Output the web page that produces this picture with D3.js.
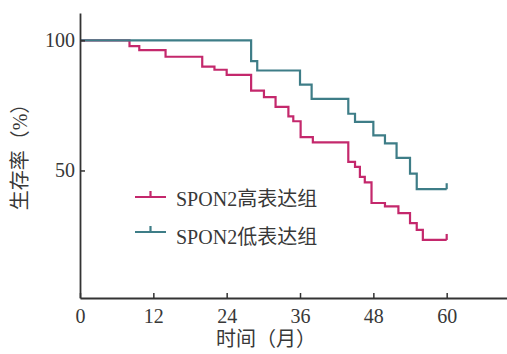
<!DOCTYPE html>
<html>
<head>
<meta charset="utf-8">
<script src="https://cdn.jsdelivr.net/npm/d3@7"></script>
<style>
  body { margin: 0; background: #fff; }
  svg { display: block; }
</style>
</head>
<body>
<script>
var xTicks = [0, 12, 24, 36, 48, 60],
    yTicks = [50, 100];

// SPON2 high expression group
var highTime = [0, 8.1, 9.7, 14.0, 20.0, 22.0, 24.0, 28.0, 30.1, 32.0, 34.1, 34.9, 36.1, 38.1, 43.9, 45.0, 45.8, 46.6, 47.7, 49.9, 52.1, 54.0, 55.1, 56.1, 60],
    highSurv = [100, 97.8, 96.2, 93.7, 89.9, 88.7, 86.7, 80.7, 78.2, 74.4, 70.8, 68.9, 62.8, 60.8, 53.3, 51.4, 47.5, 45.4, 37.5, 36.2, 33.6, 29.8, 27.2, 23.3, 23.3];

// SPON2 low expression group
var lowTime = [0, 28.0, 29.0, 36.0, 37.9, 43.9, 45.0, 48.0, 49.9, 51.8, 54.0, 55.1, 60],
    lowSurv = [100, 92.0, 88.4, 83.0, 77.5, 71.8, 68.7, 63.5, 60.4, 54.8, 48.8, 42.8, 42.8];

var groups = [
    {name: 'SPON2高表达组', time: highTime, surv: highSurv, color: '#c4286c'},
    {name: 'SPON2低表达组', time: lowTime, surv: lowSurv, color: '#3e7d87'}
];

var W = 507, H = 354;

var svg = d3.select('body').append('svg')
    .attr('width', W)
    .attr('height', H);

var x = d3.scaleLinear().domain([0, 70]).range([80, 507.8]),
    y = d3.scaleLinear().domain([1, 110.5]).range([298, 13]);

var font = '"Liberation Serif", "Noto Sans CJK SC", serif';

var line = d3.line()
    .x(function(d) { return x(d[0]); })
    .y(function(d) { return y(d[1]); })
    .curve(d3.curveStepAfter);

groups.forEach(function(g) {
    var pts = g.time.map(function(t, i) { return [t, g.surv[i]]; });
    svg.append('path')
        .attr('d', line(pts))
        .attr('fill', 'none')
        .attr('stroke', g.color)
        .attr('stroke-width', 2.2);

    // censor mark at last point
    var last = pts[pts.length - 1];
    svg.append('path')
        .attr('d', 'M' + [x(last[0]), y(last[1])] + ' V' + (y(last[1]) - 6))
        .attr('stroke', g.color)
        .attr('stroke-width', 2.2);
});

var xAxis = svg.append('g')
    .attr('transform', 'translate(0,' + y(1) + ')')
    .call(d3.axisBottom(x).tickValues(xTicks).tickSizeInner(-5).tickSizeOuter(0).tickPadding(11));

var yAxis = svg.append('g')
    .attr('transform', 'translate(' + x(0) + ',0)')
    .call(d3.axisLeft(y).tickValues(yTicks).tickSizeInner(-5).tickSizeOuter(0).tickPadding(5));

[xAxis, yAxis].forEach(function(a) {
    a.select('.domain').attr('stroke', '#333').attr('stroke-width', 1.8);
    a.selectAll('.tick line').attr('stroke', '#333').attr('stroke-width', 1.5);
    a.selectAll('.tick text')
        .attr('fill', '#383838')
        .style('font-family', font)
        .style('font-size', '20px');
});

svg.append('text')
    .attr('x', 266)
    .attr('y', 346)
    .attr('text-anchor', 'middle')
    .attr('fill', '#383838')
    .style('font-family', font)
    .style('font-size', '20px')
    .text('时间（月）');

svg.append('text')
    .attr('transform', 'translate(27,152) rotate(-90)')
    .attr('text-anchor', 'middle')
    .attr('fill', '#383838')
    .style('font-family', font)
    .style('font-size', '20px')
    .text('生存率（%）');

// legend
var legendY = [197, 232],
    legendText = [205.5, 243.5];
groups.forEach(function(g, i) {
    var ly = legendY[i];
    svg.append('path')
        .attr('d', 'M' + [135, ly] + ' H166 M' + [150.5, ly] + ' V' + (ly - 6))
        .attr('stroke', g.color)
        .attr('stroke-width', 2.2)
        .attr('fill', 'none');
    svg.append('text')
        .attr('x', 176)
        .attr('y', legendText[i])
        .attr('fill', '#383838')
        .style('font-family', font)
        .style('font-size', '20px')
        .text(g.name);
});
</script>
</body>
</html>
